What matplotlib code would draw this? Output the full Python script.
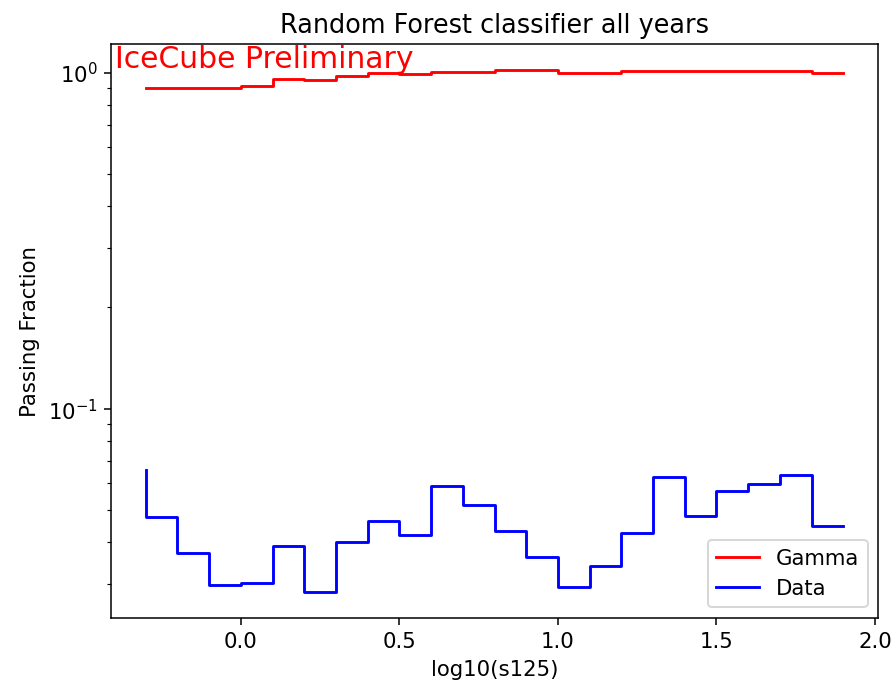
"""
Passing fraction vs log10(s125) - Random Forest classifier
"""

import matplotlib
matplotlib.use("Agg")
import matplotlib.pyplot as plt
import numpy as np

plt.rcParams['font.size'] = 11.1

# bin edges, log10(s125)
bin_edges = np.round(np.arange(-0.3, 1.9001, 0.1), 2)

# passing fraction, step 'pre' style: first value only shows as the edge at -0.3
gamma_frac = [0.899, 0.899, 0.899, 0.899, 0.913, 0.956, 0.947, 0.976, 1.0, 0.989,
              1.003, 1.003, 1.015, 1.015, 1.0, 1.0, 1.01, 1.01, 1.01, 1.01,
              1.01, 1.01, 0.996]
data_frac = [0.0659, 0.0476, 0.0372, 0.0299, 0.0302, 0.0390, 0.0285, 0.0402, 0.0463,
             0.0422, 0.0589, 0.0518, 0.0432, 0.0362, 0.0295, 0.0340, 0.0427, 0.0626,
             0.0480, 0.0569, 0.0597, 0.0635, 0.0447]


def plot_fraction():
    fig, ax = plt.subplots(figsize=(6.48, 4.96), dpi=138)
    fig.subplots_adjust(left=0.124, right=0.982, bottom=0.0965, top=0.9346)

    ax.step(bin_edges, gamma_frac, color='r', label='Gamma')
    ax.step(bin_edges, data_frac, color='b', label='Data')
    ax.set_yscale('log')

    ax.text(-0.398, 1.035, 'IceCube Preliminary', color='r', fontsize=15.6)

    ax.set_title('Random Forest classifier all years')
    ax.set_xlabel('log10(s125)')
    ax.set_ylabel('Passing Fraction')
    ax.legend(loc='lower right')

    fig.savefig('out.png', dpi=138)


if __name__ == "__main__":
    plot_fraction()
